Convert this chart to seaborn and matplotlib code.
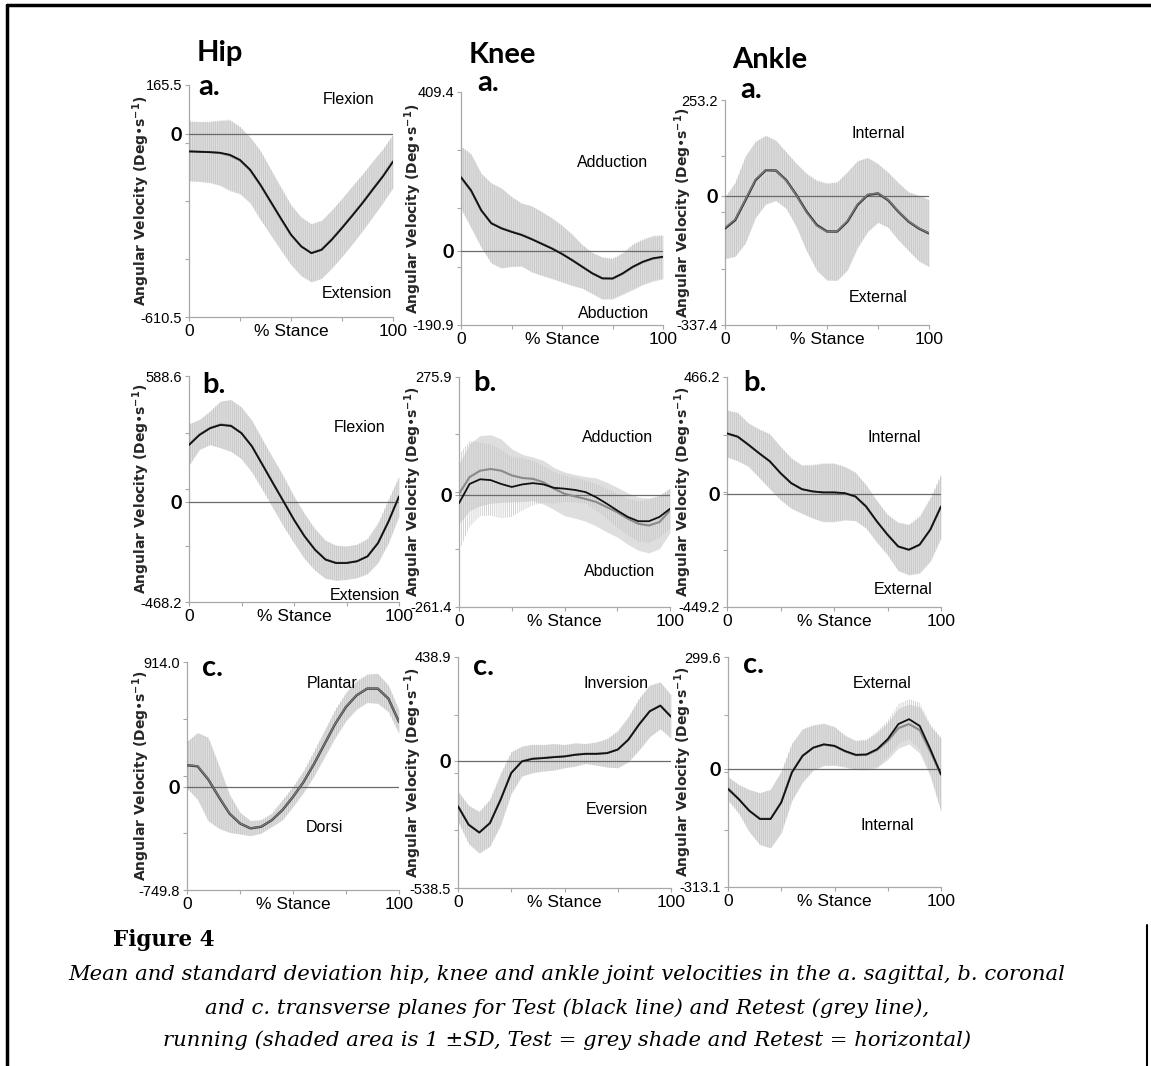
import numpy as np
import pandas as pd
import matplotlib
matplotlib.use("Agg")
import matplotlib.pyplot as plt
import seaborn as sns
from matplotlib.lines import Line2D

# ---------------- data ----------------
STANCE = [0, 5, 10, 15, 20, 25, 30, 35, 40, 45, 50, 55, 60, 65, 70, 75, 80, 85, 90, 95, 100]

JOINTS = ["Hip", "Knee", "Ankle"]
LETTERS = ["a.", "b.", "c."]

# axis range labels (max, min) row-major: a-hip, a-knee, a-ankle, b-..., c-...
Y_MAX = [165.5, 409.4, 253.2, 588.6, 275.9, 466.2, 914.0, 438.9, 299.6]
Y_MIN = [-610.5, -190.9, -337.4, -468.2, -261.4, -449.2, -749.8, -538.5, -313.1]

UPPER_LABELS = ["Flexion", "Adduction", "Internal", "Flexion", "Adduction", "Internal",
                "Plantar", "Inversion", "External"]
LOWER_LABELS = ["Extension", "Abduction", "External", "Extension", "Abduction", "External",
                "Dorsi", "Eversion", "Internal"]

# Hip, sagittal
HIP_A_TEST = [-57, -58, -59, -61, -68, -85, -118, -168, -224, -280, -335, -374, -397, -386, -352, -313, -272, -230, -185, -141, -91]
HIP_A_RETEST = [-55, -57, -59, -62, -70, -87, -120, -170, -226, -282, -336, -375, -396, -384, -350, -311, -270, -228, -183, -139, -89]
HIP_A_SD = [100, 100, 102, 108, 118, 112, 110, 115, 110, 105, 100, 98, 97, 97, 97, 97, 97, 95, 93, 90, 89]
# Knee, sagittal
KNEE_A_TEST = [190, 156, 105, 71, 58, 49, 41, 30, 18, 6, -8, -24, -41, -58, -71, -71, -58, -41, -28, -19, -15]
KNEE_A_RETEST = [188, 154, 104, 72, 59, 50, 42, 31, 19, 7, -7, -23, -40, -57, -70, -72, -59, -42, -29, -20, -16]
KNEE_A_SD = [80, 95, 95, 103, 103, 90, 81, 85, 82, 78, 73, 66, 56, 53, 54, 52, 53, 58, 58, 58, 56]
# Ankle, sagittal
ANKLE_A_TEST = [-84, -62, -10, 43, 69, 68, 43, 4, -40, -75, -92, -92, -66, -22, 4, 8, -10, -40, -66, -84, -97]
ANKLE_A_RETEST = [-82, -60, -8, 45, 70, 68, 42, 3, -42, -77, -93, -91, -64, -20, 5, 9, -9, -39, -65, -83, -96]
ANKLE_A_SD = [81, 97, 114, 100, 90, 79, 74, 83, 101, 118, 127, 129, 129, 114, 97, 77, 72, 75, 77, 86, 88]
# Hip, coronal
HIP_B_TEST = [266, 313, 344, 360, 355, 321, 259, 173, 87, 2, -84, -161, -224, -270, -286, -286, -278, -255, -193, -92, 25]
HIP_B_RETEST = [268, 315, 346, 362, 357, 322, 260, 174, 88, 3, -83, -160, -223, -269, -285, -285, -277, -254, -192, -91, 26]
HIP_B_SD = [97, 70, 78, 109, 121, 121, 121, 117, 117, 117, 109, 105, 97, 89, 82, 78, 78, 82, 93, 101, 93]
# Knee, coronal
KNEE_B_TEST = [-19, 26, 37, 35, 26, 19, 25, 28, 25, 17, 15, 12, 7, -5, -20, -36, -51, -61, -61, -51, -32]
KNEE_B_TEST_SD = [113, 100, 86, 83, 80, 70, 61, 52, 43, 37, 31, 29, 27, 31, 35, 39, 43, 47, 51, 49, 47]
KNEE_B_RETEST = [3, 42, 57, 61, 57, 46, 40, 38, 30, 15, 3, -3, -9, -16, -28, -40, -55, -67, -71, -63, -36]
KNEE_B_RETEST_SD = [70, 78, 82, 80, 74, 62, 55, 51, 51, 49, 51, 51, 52, 56, 58, 58, 60, 62, 64, 62, 52]
# Ankle, coronal
ANKLE_B_TEST = [242, 229, 197, 163, 131, 84, 44, 20, 11, 7, 7, 4, -9, -49, -108, -161, -208, -221, -201, -141, -49]
ANKLE_B_RETEST = [240, 228, 196, 162, 130, 83, 43, 19, 10, 6, 6, 3, -10, -50, -109, -162, -209, -222, -202, -142, -50]
ANKLE_B_SD = [93, 96, 86, 96, 109, 106, 100, 96, 106, 116, 116, 106, 96, 86, 83, 80, 96, 100, 113, 126, 126]
# Hip, transverse
HIP_C_TEST = [161, 153, 58, -70, -191, -264, -300, -288, -240, -167, -70, 39, 173, 319, 465, 586, 671, 720, 720, 647, 477]
HIP_C_RETEST = [163, 155, 60, -68, -190, -263, -299, -287, -239, -166, -69, 40, 174, 320, 466, 587, 672, 721, 721, 648, 478]
HIP_C_SD = [170, 243, 304, 231, 140, 79, 55, 49, 49, 73, 73, 79, 91, 97, 103, 103, 103, 103, 109, 97, 85]
# Knee, transverse
KNEE_C_TEST = [-193, -271, -304, -264, -165, -52, -3, 8, 11, 15, 18, 25, 29, 29, 32, 47, 89, 153, 209, 233, 186]
KNEE_C_RETEST = [-191, -270, -303, -263, -164, -51, -2, 9, 12, 16, 19, 26, 30, 30, 33, 48, 90, 154, 210, 234, 187]
KNEE_C_SD = [63, 81, 88, 99, 109, 88, 63, 60, 56, 56, 49, 49, 42, 49, 60, 78, 95, 109, 109, 99, 92]
# Ankle, transverse
ANKLE_C_TEST = [-52, -79, -110, -132, -132, -88, -8, 36, 58, 67, 63, 49, 39, 40, 54, 81, 121, 134, 116, 54, -13]
ANKLE_C_RETEST = [-50, -78, -110, -131, -131, -87, -7, 37, 58, 66, 62, 48, 38, 39, 52, 76, 110, 121, 105, 48, -15]
ANKLE_C_SD = [31, 38, 56, 69, 78, 82, 76, 71, 60, 56, 51, 42, 38, 40, 47, 49, 53, 53, 62, 67, 98]

TEST_SERIES = [HIP_A_TEST, KNEE_A_TEST, ANKLE_A_TEST, HIP_B_TEST, KNEE_B_TEST, ANKLE_B_TEST,
               HIP_C_TEST, KNEE_C_TEST, ANKLE_C_TEST]
TEST_SD = [HIP_A_SD, KNEE_A_SD, ANKLE_A_SD, HIP_B_SD, KNEE_B_TEST_SD, ANKLE_B_SD,
           HIP_C_SD, KNEE_C_SD, ANKLE_C_SD]
RETEST_SERIES = [HIP_A_RETEST, KNEE_A_RETEST, ANKLE_A_RETEST, HIP_B_RETEST, KNEE_B_RETEST, ANKLE_B_RETEST,
                 HIP_C_RETEST, KNEE_C_RETEST, ANKLE_C_RETEST]
RETEST_SD = [HIP_A_SD, KNEE_A_SD, ANKLE_A_SD, HIP_B_SD, KNEE_B_RETEST_SD, ANKLE_B_SD,
             HIP_C_SD, KNEE_C_SD, ANKLE_C_SD]

CAPTION_TITLE = "Figure 4"
CAPTION_LINES = [
    "Mean and standard deviation hip, knee and ankle joint velocities in the a. sagittal, b. coronal",
    "and c. transverse planes for Test (black line) and Retest (grey line),",
    "running (shaded area is 1 \u00b1SD, Test = grey shade and Retest = horizontal)",
]

# ---------------- layout (pixels) ----------------
W, H = 1151, 1066
AX_BOXES = [  # left, top, right, bottom
    (189, 85, 393, 317), (461, 92, 663, 325), (725, 100, 929, 325),
    (189, 376, 399, 602), (459, 377, 670, 607), (727, 377, 941, 607),
    (187, 662, 399, 890), (458, 657, 671, 888), (728, 657, 941, 887),
]
YLABEL_X = [141, 413, 683]
TITLE_POS = [(220, 53), (502, 55), (770, 60)]
LETTER_POS = [(198, 87), (477, 83), (740, 90), (202, 385), (473, 383), (743, 383),
              (202, 668), (473, 667), (743, 665)]
UPPER_POS = [(349, 100), (613, 162), (878, 133), (360, 428), (618, 437), (894, 438),
             (332, 683), (616, 683), (882, 683)]
LOWER_POS = [(357, 293), (614, 313), (878, 297), (365, 595), (620, 572), (903, 590),
             (324, 828), (617, 809), (887, 825)]
GREY_ON_TOP = [False, False, True, False, False, False, True, False, False]

sns.set_theme(style="white")
plt.rcParams["font.family"] = ["DejaVu Sans"]
plt.rcParams["hatch.linewidth"] = 0.5
NARROW = ["Liberation Sans", "DejaVu Sans"]
BOLDF = ["Lato", "DejaVu Sans"]

fig = plt.figure(figsize=(W / 100, H / 100), dpi=100)
fig.patch.set_facecolor("white")


def fx(x):
    return x / W


def fy(y):
    return 1 - y / H


x = np.array(STANCE, dtype=float)
for i in range(9):
    l, t, r, b = AX_BOXES[i]
    ax = fig.add_axes([fx(l), fy(b), (r - l) / W, (b - t) / H])
    ax.set_facecolor("none")
    test = np.array(TEST_SERIES[i], float)
    tsd = np.array(TEST_SD[i], float)
    rt = np.array(RETEST_SERIES[i], float)
    rsd = np.array(RETEST_SD[i], float)

    ax.fill_between(x, rt - rsd, rt + rsd, color="#dedede", lw=0, zorder=1)
    ax.fill_between(x, test - tsd, test + tsd, facecolor="none", edgecolor="#c2c2c2",
                    hatch="||||||||", lw=0, zorder=2)
    ax.axhline(0, color="#6a6a6a", lw=0.9, zorder=3)

    df = pd.DataFrame({"stance": x, "test": test, "retest": rt})
    if GREY_ON_TOP[i]:
        sns.lineplot(data=df, x="stance", y="test", color="#303030", lw=1.7, ax=ax, zorder=4)
        sns.lineplot(data=df, x="stance", y="retest", color="#7a7a7a", lw=1.0, ax=ax, zorder=5)
    else:
        sns.lineplot(data=df, x="stance", y="retest", color="#8a8a8a", lw=1.5, ax=ax, zorder=4)
        sns.lineplot(data=df, x="stance", y="test", color="#111111", lw=1.3, ax=ax, zorder=5)
    for ln in ax.get_lines():
        ln.set_solid_joinstyle("round")

    ymax, ymin = Y_MAX[i], Y_MIN[i]
    ax.set_xlim(0, 100)
    ax.set_ylim(ymin, ymax)
    for s in ["top", "right"]:
        ax.spines[s].set_visible(False)
    for s in ["left", "bottom"]:
        ax.spines[s].set_color("#a8a8a8")
        ax.spines[s].set_linewidth(0.9)

    ax.set_xticks([0, 50, 100])
    ax.set_xticklabels(["0", "% Stance", "100"], family=NARROW, fontsize=12.5, color="black")
    ax.set_xticks([25, 75], minor=True)
    ax.set_yticks([ymin, 0, ymax])
    ylabels = ax.set_yticklabels([f"{ymin:.1f}", "0", f"{ymax:.1f}"], family=NARROW,
                                 fontsize=10.5, color="black")
    ylabels[1].set_fontfamily(BOLDF)
    ylabels[1].set_fontweight("bold")
    ylabels[1].set_fontsize(14)
    ax.set_yticks(list(np.linspace(ymin, ymax, 5)[1:-1]), minor=True)
    ax.tick_params(axis="both", which="both", direction="out", length=3, width=0.8,
                   color="#a8a8a8", pad=2, bottom=True, left=True)
    ax.set_xlabel("")
    ax.set_ylabel("")
    if ax.get_legend():
        ax.get_legend().remove()

    col = i % 3
    fig.text(fx(YLABEL_X[col]), fy((t + b) / 2), "Angular Velocity (Deg\u2022s$^{\\mathbf{-1}}$)",
             rotation=90, ha="center", va="center", fontsize=10, fontweight="bold",
             family="DejaVu Sans")
    lx, ly = LETTER_POS[i]
    fig.text(fx(lx), fy(ly), LETTERS[i // 3], ha="left", va="center", fontsize=21,
             fontweight="bold", family=BOLDF, color="black")
    ux, uy = UPPER_POS[i]
    fig.text(fx(ux), fy(uy), UPPER_LABELS[i], ha="center", va="center", fontsize=11.5,
             family=NARROW, color="black")
    dx, dy = LOWER_POS[i]
    fig.text(fx(dx), fy(dy), LOWER_LABELS[i], ha="center", va="center", fontsize=11.5,
             family=NARROW, color="black")

for j, name in enumerate(JOINTS):
    tx, ty = TITLE_POS[j]
    fig.text(fx(tx), fy(ty), name, ha="center", va="center", fontsize=21, fontweight="bold",
             family=BOLDF, color="black")

fig.text(fx(113), fy(940), CAPTION_TITLE, ha="left", va="center", fontsize=15.5,
         fontweight="bold", family="DejaVu Serif", color="black")
for k, (line, yy) in enumerate(zip(CAPTION_LINES, [975, 1008, 1040])):
    fig.text(fx(567), fy(yy), line, ha="center", va="center", fontsize=15.2, style="italic",
             family="DejaVu Serif", color="black")

# page frame
fig.add_artist(Line2D([fx(7), fx(7)], [fy(5), 0], color="black", lw=2.5))
fig.add_artist(Line2D([fx(7), 1], [fy(5), fy(5)], color="black", lw=2.5))
fig.add_artist(Line2D([fx(1147), fx(1147)], [fy(925), 0], color="black", lw=1.5))

fig.savefig("out.png", dpi=100, facecolor="white")
